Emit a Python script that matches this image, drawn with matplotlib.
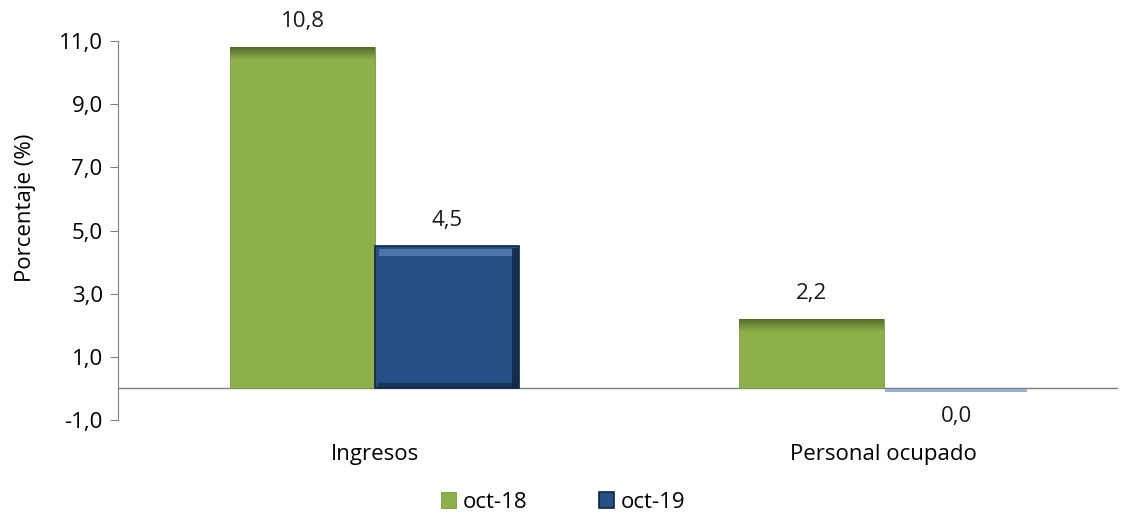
import matplotlib
matplotlib.use("Agg")
import matplotlib.pyplot as plt
import numpy as np

plt.rcParams['font.family'] = ['Open Sans', 'DejaVu Sans']

# data
categories = ['Ingresos', 'Personal ocupado']
series = ['oct-18', 'oct-19']
oct18 = [10.8, 2.2]
oct19 = [4.5, -0.04]
yticks = [-1.0, 1.0, 3.0, 5.0, 7.0, 9.0, 11.0]

green = '#8db04b'
green_dark = '#4f6228'
blue = '#264f85'
blue_dark = '#10243f'
blue_light = '#6f93c4'
fs = 16


def fmt(v):
    return f"{abs(v) if abs(v) < 0.05 else v:.1f}".replace('.', ',')


fig = plt.figure(figsize=(11.26, 5.17), dpi=100)
ax = fig.add_axes([0.1048, 0.1876, 0.888, 0.733])

x = np.arange(len(categories))
w = 0.284

# green bars with a darker top band
gb = ax.bar(x - w / 2, oct18, w, color=green, edgecolor='#7a9a3e', linewidth=0.6, zorder=2)
for xi, v in zip(x - w / 2, oct18):
    n = 8
    band = 0.38
    for k in range(n):
        a = 1 - k / n
        ax.bar(xi, band / n, w, bottom=v - (k + 1) * band / n, color=green_dark,
               alpha=0.85 * a, linewidth=0, zorder=3)

# blue bars with a bevel look
bb = ax.bar(x + w / 2, oct19, w, color=blue, edgecolor=blue_dark, linewidth=1.2, zorder=2)
for b, xi, v in zip(bb, x + w / 2, oct19):
    if abs(v) < 0.5:
        b.set_visible(False)
        ax.bar(xi, -0.09, w * 0.98, bottom=-0.03, color='#95b3d7', linewidth=0, zorder=3)
        continue
    ax.bar(xi, 0.22, w * 0.94, bottom=v - 0.3, color=blue_light, alpha=0.55, linewidth=0, zorder=3)
    ax.bar(xi + w * 0.47, v - 0.1, w * 0.04, bottom=0.05, color=blue_dark, alpha=0.8, linewidth=0, zorder=3)
    ax.bar(xi, 0.15, w * 0.96, bottom=0.02, color=blue_dark, alpha=0.6, linewidth=0, zorder=3)

for xi, v in zip(x - w / 2, oct18):
    ax.annotate(fmt(v), (xi, v), xytext=(0, 11), textcoords='offset points',
                ha='center', va='bottom', fontsize=fs, color='#1a1a1a')
for xi, v in zip(x + w / 2, oct19):
    if v < 0:
        ax.annotate(fmt(v), (xi, v), xytext=(0, -12), textcoords='offset points',
                    ha='center', va='top', fontsize=fs, color='#1a1a1a')
    else:
        ax.annotate(fmt(v), (xi, v), xytext=(0, 11), textcoords='offset points',
                    ha='center', va='bottom', fontsize=fs, color='#1a1a1a')

ax.axhline(0, color='#808080', linewidth=1.0, zorder=1)

ax.set_ylim(-1, 11)
ax.set_xlim(-0.505, 1.46)
ax.set_yticks(yticks)
ax.set_yticklabels([f"{t:.1f}".replace('.', ',') for t in yticks], fontsize=fs)
ax.set_xticks(x)
ax.set_xticklabels(categories, fontsize=fs)
ax.tick_params(axis='x', length=0, pad=17)
ax.tick_params(axis='y', length=6, color='#808080', pad=5)
for s in ['top', 'right', 'bottom']:
    ax.spines[s].set_visible(False)
ax.spines['left'].set_color('#808080')
ax.set_ylabel('Porcentaje (%)', fontsize=fs, labelpad=8)
ax.yaxis.set_label_coords(-0.082, 0.56)

leg = fig.legend([gb, bb], series, loc='center', bbox_to_anchor=(0.5, 0.028), ncol=2,
                 frameon=False, fontsize=fs, handlelength=0.7, handleheight=0.7,
                 handletextpad=0.3, columnspacing=3.2)

fig.savefig('out.png', dpi=100)
